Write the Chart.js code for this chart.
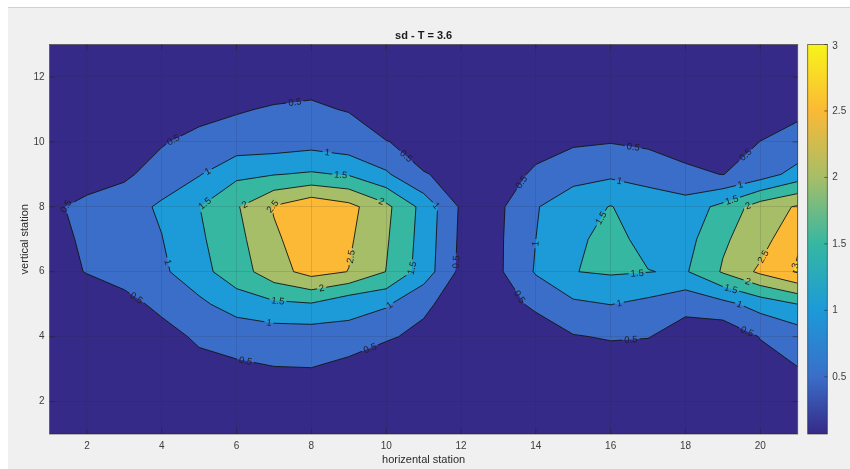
<!DOCTYPE html>
<html>
<head>
<meta charset="utf-8">
<script src="https://cdn.jsdelivr.net/npm/chart.js@4.4.1/dist/chart.umd.min.js"></script>
<style>
  html, body { margin: 0; padding: 0; background: #fff; }
  canvas { display: block; }
</style>
</head>
<body>
<canvas id="myChart" width="850" height="469"></canvas>
<script>
// stations of the measuring grid
const xStations = [1, 2, 3, 4, 5, 6, 7, 8, 9, 10, 11, 12, 13, 14, 15, 16, 17, 18, 19, 20, 21];
const yStations = [1, 2, 3, 4, 5, 6, 7, 8, 9, 10, 11, 12, 13];

// sd values, one array per vertical station, columns are horizontal stations 1..21
const sdY1  = [0.07, 0.08, 0.08, 0.09, 0.10, 0.12, 0.14, 0.15, 0.12, 0.10, 0.09, 0.08, 0.08, 0.08, 0.08, 0.09, 0.08, 0.08, 0.08, 0.09, 0.12];
const sdY2  = [0.08, 0.10, 0.12, 0.15, 0.18, 0.22, 0.28, 0.30, 0.20, 0.15, 0.12, 0.10, 0.10, 0.10, 0.10, 0.12, 0.10, 0.08, 0.08, 0.12, 0.20];
const sdY3  = [0.10, 0.12, 0.15, 0.20, 0.30, 0.455, 0.48, 0.49, 0.27, 0.22, 0.15, 0.12, 0.12, 0.13, 0.16, 0.23, 0.15, 0.12, 0.10, 0.30, 0.483];
const sdY4  = [0.12, 0.15, 0.18, 0.275, 0.60, 0.60, 0.72, 0.72, 0.87, 0.55, 0.40, 0.25, 0.15, 0.20, 0.47, 0.54, 0.52, 0.27, 0.136, 0.52, 0.72];
const sdY5  = [0.15, 0.20, 0.30, 0.65, 0.88, 1.27, 1.40, 1.46, 1.13, 1.06, 0.58, 0.30, 0.27, 0.60, 0.91, 1.01, 0.872, 0.646, 0.85, 1.19, 1.50];
const sdY6  = [0.32, 0.52, 0.75, 0.90, 1.35, 1.75, 2.30, 2.68, 2.49, 1.99, 1.27, 0.37, 0.42, 1.045, 1.49, 1.556, 1.5125, 1.45, 2.05, 2.60, 3.05];
const sdY7  = [0.375, 0.56, 0.775, 0.985, 1.42, 1.85, 2.42, 2.785, 2.57, 2.055, 1.305, 0.40, 0.42, 1.00, 1.40, 1.65, 1.35, 1.316, 1.93, 2.28, 2.95];
const sdY8  = [0.43, 0.60, 0.80, 1.07, 1.49, 1.95, 2.54, 2.89, 2.65, 2.12, 1.34, 0.43, 0.40, 0.97, 1.27, 1.52, 1.23, 1.23, 1.64, 2.25, 2.55];
const sdY9  = [0.25, 0.32, 0.405, 0.74, 0.97, 1.39, 1.48, 1.56, 1.46, 1.07, 0.51, 0.45, 0.20, 0.60, 0.84, 0.915, 0.85, 0.59, 0.49, 0.75, 1.20];
const sdY10 = [0.15, 0.20, 0.30, 0.45, 0.70, 0.71, 0.73, 0.81, 0.69, 0.51, 0.41, 0.25, 0.15, 0.27, 0.43, 0.48, 0.40, 0.325, 0.30, 0.505, 0.60];
const sdY11 = [0.12, 0.15, 0.20, 0.25, 0.27, 0.46, 0.545, 0.547, 0.48, 0.30, 0.20, 0.15, 0.12, 0.15, 0.20, 0.22, 0.20, 0.18, 0.20, 0.30, 0.44];
const sdY12 = [0.10, 0.10, 0.12, 0.15, 0.18, 0.20, 0.245, 0.385, 0.30, 0.20, 0.15, 0.12, 0.10, 0.10, 0.12, 0.12, 0.12, 0.12, 0.12, 0.15, 0.30];
const sdY13 = [0.08, 0.08, 0.10, 0.10, 0.12, 0.12, 0.15, 0.20, 0.15, 0.12, 0.10, 0.08, 0.08, 0.08, 0.10, 0.10, 0.10, 0.10, 0.10, 0.12, 0.20];
const sdRows = [sdY1, sdY2, sdY3, sdY4, sdY5, sdY6, sdY7, sdY8, sdY9, sdY10, sdY11, sdY12, sdY13];

const levels = [0.5, 1, 1.5, 2, 2.5, 3];
const xTicks = [2, 4, 6, 8, 10, 12, 14, 16, 18, 20];
const yTicks = [2, 4, 6, 8, 10, 12];
const cbTicks = [0.5, 1, 1.5, 2, 2.5, 3];
const cbRange = [0.07, 3];

// colours: region below first level, then one per level
const bandColors = ['#352a87', '#3a6ec8', '#1d9ad8', '#36b7a2', '#a6be68', '#fbb936', '#f3e024'];
const cbTopColor = '#f8f41a';
const FONT = '"Liberation Sans", Arial, Helvetica, sans-serif';
const labelSpacing = 135;

// one level: polygons of z >= level and contour segments, cell by cell
function cellPieces(level) {
    const polys = [], segs = [];
    for (let j = 0; j < yStations.length - 1; j++) {
        for (let i = 0; i < xStations.length - 1; i++) {
            const c = [
                { x: xStations[i], y: yStations[j], z: sdRows[j][i] },
                { x: xStations[i + 1], y: yStations[j], z: sdRows[j][i + 1] },
                { x: xStations[i + 1], y: yStations[j + 1], z: sdRows[j + 1][i + 1] },
                { x: xStations[i], y: yStations[j + 1], z: sdRows[j + 1][i] }
            ];
            const keys = ['h' + j + '_' + i, 'v' + (i + 1) + '_' + j, 'h' + (j + 1) + '_' + i, 'v' + i + '_' + j];
            const poly = [], cross = [];
            for (let k = 0; k < 4; k++) {
                const a = c[k], b = c[(k + 1) % 4];
                const ina = a.z >= level, inb = b.z >= level;
                if (ina) poly.push([a.x, a.y]);
                if (ina !== inb) {
                    const t = (level - a.z) / (b.z - a.z);
                    const p = [a.x + t * (b.x - a.x), a.y + t * (b.y - a.y)];
                    poly.push(p);
                    cross.push({ p: p, key: keys[k], leave: ina });
                }
            }
            if (poly.length >= 3) polys.push(poly);
            cross.forEach((cr, m) => {
                if (cr.leave) segs.push({ a: cr, b: cross[(m + 1) % cross.length] });
            });
        }
    }
    return { polys, segs };
}

// join the segments into lines
function chain(segs) {
    const byKey = {};
    segs.forEach((s, n) => {
        [s.a, s.b].forEach(e => { (byKey[e.key] = byKey[e.key] || []).push(n); });
    });
    const used = segs.map(() => false);
    const lines = [];
    const walk = (n, key) => {
        const pts = [];
        const first = segs[n];
        pts.push(first.a.key === key ? first.a.p : first.b.p);
        let cur = n;
        while (cur !== undefined && !used[cur]) {
            used[cur] = true;
            const s = segs[cur];
            const next = s.a.key === key ? s.b : s.a;
            pts.push(next.p);
            key = next.key;
            cur = (byKey[key] || []).find(m => !used[m]);
        }
        return pts;
    };
    segs.forEach((s, n) => {
        if (used[n]) return;
        if (byKey[s.a.key].length === 1) lines.push(walk(n, s.a.key));
        else if (byKey[s.b.key].length === 1) lines.push(walk(n, s.b.key));
    });
    segs.forEach((s, n) => { if (!used[n]) lines.push(walk(n, s.a.key)); });
    return lines;
}

function labelsOnLine(pts, text, w) {
    const cum = [0];
    for (let i = 1; i < pts.length; i++) {
        cum.push(cum[i - 1] + Math.hypot(pts[i][0] - pts[i - 1][0], pts[i][1] - pts[i - 1][1]));
    }
    const len = cum[cum.length - 1];
    if (len < w + 6) return [];
    const at = d => {
        d = Math.max(0, Math.min(len, d));
        let i = 1;
        while (i < cum.length - 1 && cum[i] < d) i++;
        const seg = cum[i] - cum[i - 1] || 1;
        const t = (d - cum[i - 1]) / seg;
        return [pts[i - 1][0] + t * (pts[i][0] - pts[i - 1][0]), pts[i - 1][1] + t * (pts[i][1] - pts[i - 1][1])];
    };
    const n = Math.max(1, Math.round(len / labelSpacing));
    const out = [];
    for (let k = 0; k < n; k++) {
        const d = (k + 0.5) * len / n;
        const a = at(d - w / 2), b = at(d + w / 2), c = at(d);
        let ang = Math.atan2(b[1] - a[1], b[0] - a[0]);
        if (ang > Math.PI / 2) ang -= Math.PI;
        if (ang < -Math.PI / 2) ang += Math.PI;
        out.push({ x: c[0], y: c[1], ang: ang, text: text, w: w });
    }
    return out;
}

const contourPlugin = {
    id: 'contourf',
    beforeDraw(chart) {
        const ctx = chart.ctx;
        ctx.save();
        ctx.fillStyle = '#ffffff';
        ctx.fillRect(0, 0, chart.width, chart.height);
        ctx.fillStyle = '#f0f0f0';
        ctx.fillRect(8, 8, chart.width - 8, chart.height - 8);
        ctx.strokeStyle = '#d2d2d2';
        ctx.lineWidth = 1;
        ctx.beginPath();
        ctx.moveTo(8, 7.5);
        ctx.lineTo(chart.width, 7.5);
        ctx.stroke();
        ctx.restore();
    },
    beforeDatasetsDraw(chart) {
        const ctx = chart.ctx, area = chart.chartArea;
        const xs = chart.scales.x, ys = chart.scales.y;
        const px = p => [xs.getPixelForValue(p[0]), ys.getPixelForValue(p[1])];

        ctx.save();
        ctx.beginPath();
        ctx.rect(area.left, area.top, area.right - area.left, area.bottom - area.top);
        ctx.clip();
        ctx.fillStyle = bandColors[0];
        ctx.fillRect(area.left, area.top, area.right - area.left, area.bottom - area.top);

        const allLines = [];
        levels.forEach((level, k) => {
            const pieces = cellPieces(level);
            ctx.beginPath();
            pieces.polys.forEach(poly => {
                poly.map(px).forEach((p, m) => { if (m === 0) ctx.moveTo(p[0], p[1]); else ctx.lineTo(p[0], p[1]); });
                ctx.closePath();
            });
            ctx.fillStyle = bandColors[k + 1];
            ctx.fill('nonzero');
            chain(pieces.segs).forEach(line => allLines.push({ level: level, pts: line.map(px) }));
        });

        // labels along the lines
        ctx.font = '9.5px ' + FONT;
        const labels = [];
        allLines.forEach(l => {
            const text = String(l.level);
            const w = ctx.measureText(text).width;
            labelsOnLine(l.pts, text, w).forEach(lb => labels.push(lb));
        });

        // lines, with a gap where a label sits
        ctx.save();
        ctx.beginPath();
        ctx.rect(area.left, area.top, area.right - area.left, area.bottom - area.top);
        labels.forEach(lb => {
            const hw = lb.w / 2 + 2, hh = 5;
            const c = Math.cos(lb.ang), s = Math.sin(lb.ang);
            const corners = [[-hw, -hh], [hw, -hh], [hw, hh], [-hw, hh]].map(([u, v]) => [lb.x + u * c - v * s, lb.y + u * s + v * c]);
            ctx.moveTo(corners[0][0], corners[0][1]);
            corners.slice(1).forEach(p => ctx.lineTo(p[0], p[1]));
            ctx.closePath();
        });
        ctx.clip('evenodd');
        ctx.strokeStyle = '#141414';
        ctx.lineWidth = 0.9;
        ctx.lineJoin = 'round';
        allLines.forEach(l => {
            ctx.beginPath();
            l.pts.forEach((p, m) => { if (m === 0) ctx.moveTo(p[0], p[1]); else ctx.lineTo(p[0], p[1]); });
            ctx.stroke();
        });
        ctx.restore();

        ctx.fillStyle = '#1e1e1e';
        ctx.textAlign = 'center';
        ctx.textBaseline = 'middle';
        labels.forEach(lb => {
            ctx.save();
            ctx.translate(lb.x, lb.y);
            ctx.rotate(lb.ang);
            ctx.fillText(lb.text, 0, 0.5);
            ctx.restore();
        });
        ctx.restore();
    },
    afterDraw(chart) {
        const ctx = chart.ctx, area = chart.chartArea;
        const xs = chart.scales.x, ys = chart.scales.y;
        ctx.save();

        // axes box and inward ticks
        ctx.strokeStyle = 'rgba(38,38,38,0.75)';
        ctx.lineWidth = 0.8;
        ctx.strokeRect(area.left, area.top, area.right - area.left, area.bottom - area.top);
        ctx.beginPath();
        xTicks.forEach(v => {
            const x = xs.getPixelForValue(v);
            ctx.moveTo(x, area.bottom); ctx.lineTo(x, area.bottom - 5);
            ctx.moveTo(x, area.top); ctx.lineTo(x, area.top + 5);
        });
        yTicks.forEach(v => {
            const y = ys.getPixelForValue(v);
            ctx.moveTo(area.left, y); ctx.lineTo(area.left + 5, y);
            ctx.moveTo(area.right, y); ctx.lineTo(area.right - 5, y);
        });
        ctx.stroke();

        // title
        ctx.fillStyle = '#1a1a1a';
        ctx.font = 'bold 11px ' + FONT;
        ctx.textAlign = 'center';
        ctx.textBaseline = 'middle';
        ctx.fillText('sd - T = 3.6', (area.left + area.right) / 2, 36);

        // colour bar
        const cbLeft = area.right + 10, cbW = 19.6;
        const top = area.top, bottom = area.bottom;
        const vy = v => bottom - (v - cbRange[0]) / (cbRange[1] - cbRange[0]) * (bottom - top);
        const frac = v => Math.max(0, Math.min(1, (v - cbRange[0]) / (cbRange[1] - cbRange[0])));
        const grad = ctx.createLinearGradient(0, bottom, 0, top);
        grad.addColorStop(0, bandColors[0]);
        levels.slice(0, 5).forEach((lv, k) => grad.addColorStop(frac(lv), bandColors[k + 1]));
        grad.addColorStop(1, cbTopColor);
        ctx.fillStyle = grad;
        ctx.fillRect(cbLeft, top, cbW, bottom - top);
        ctx.strokeStyle = 'rgba(38,38,38,0.75)';
        ctx.lineWidth = 0.8;
        ctx.strokeRect(cbLeft, top, cbW, bottom - top);
        ctx.beginPath();
        cbTicks.forEach(v => {
            const y = vy(v);
            ctx.moveTo(cbLeft + cbW, y); ctx.lineTo(cbLeft + cbW - 3, y);
        });
        ctx.stroke();
        ctx.fillStyle = '#3c3c3c';
        ctx.font = '10px ' + FONT;
        ctx.textAlign = 'left';
        ctx.textBaseline = 'middle';
        cbTicks.forEach(v => ctx.fillText(String(v), cbLeft + cbW + 5, Math.max(vy(v), top + 2)));
        ctx.restore();
    }
};

const gridPoints = [];
yStations.forEach((y, j) => xStations.forEach((x, i) => gridPoints.push({ x: x, y: y, z: sdRows[j][i] })));

const ctx = document.getElementById('myChart').getContext('2d');
const chart = new Chart(ctx, {
    type: 'scatter',
    data: {
        datasets: [{
            label: 'sd',
            data: gridPoints,
            pointRadius: 0,
            showLine: false
        }]
    },
    plugins: [contourPlugin],
    options: {
        responsive: false,
        animation: false,
        devicePixelRatio: 1,
        events: [],
        layout: { padding: { top: 44.5, right: 52.3, left: 0, bottom: 0 } },
        plugins: { legend: { display: false }, tooltip: { enabled: false } },
        scales: {
            x: {
                type: 'linear', min: 1, max: 21,
                afterBuildTicks: s => { s.ticks = xTicks.map(v => ({ value: v })); },
                afterFit: s => { s.height = 35; },
                grid: { z: 1, color: 'rgba(38,38,38,0.13)', lineWidth: 1, drawTicks: false },
                border: { display: false },
                ticks: { autoSkip: false, maxRotation: 0, padding: 6, color: '#3c3c3c', font: { family: FONT, size: 10 } },
                title: { display: true, text: 'horizental station', color: '#2a2a2a', font: { family: FONT, size: 11 }, padding: { top: 0, bottom: 2.1 } }
            },
            y: {
                type: 'linear', min: 1, max: 13,
                afterBuildTicks: s => { s.ticks = yTicks.map(v => ({ value: v })); },
                afterFit: s => { s.width = 49.5; },
                grid: { z: 1, color: 'rgba(38,38,38,0.13)', lineWidth: 1, drawTicks: false },
                border: { display: false },
                ticks: { padding: 5, color: '#3c3c3c', font: { family: FONT, size: 10 } },
                title: { display: true, text: 'vertical station', color: '#2a2a2a', font: { family: FONT, size: 11 }, padding: { top: 18.4, bottom: 0 } }
            }
        }
    }
});
</script>
</body>
</html>
